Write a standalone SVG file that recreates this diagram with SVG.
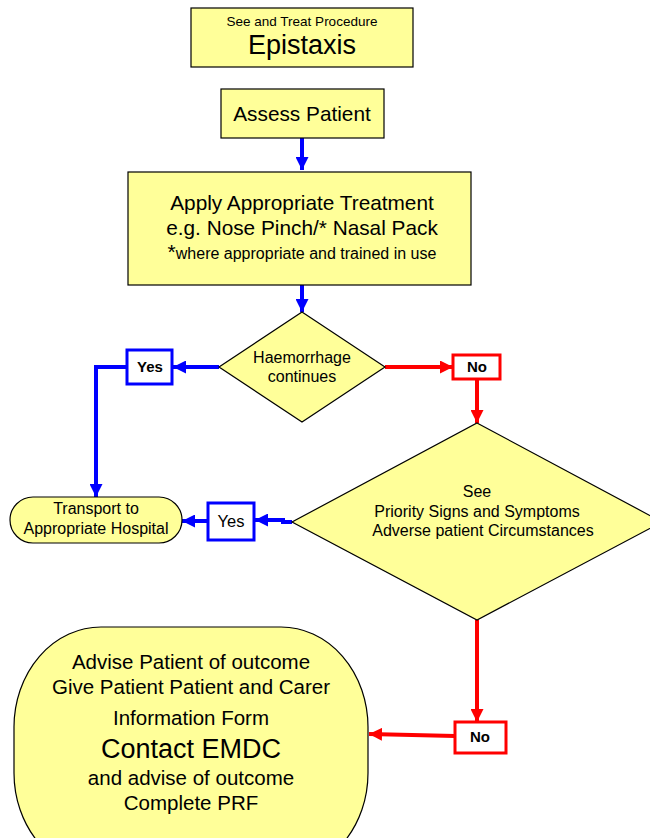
<svg xmlns="http://www.w3.org/2000/svg" width="650" height="838" viewBox="0 0 650 838">
<defs>
<style>
.n{fill:#FFFF99;stroke:#000;stroke-width:1.2}
.t{font-family:"Liberation Sans",Arial,sans-serif;fill:#000;text-anchor:middle}
.b{stroke:#0000FF;stroke-width:4;fill:none}
.r{stroke:#FF0000;stroke-width:4;fill:none}
.yb{fill:#fff;stroke:#0000FF;stroke-width:3}
.nb{fill:#fff;stroke:#FF0000;stroke-width:3}
</style>
<marker id="ab" viewBox="0 0 10 10" refX="10" refY="5" markerWidth="13" markerHeight="13" markerUnits="userSpaceOnUse" orient="auto"><path d="M0,0L10,5L0,10z" fill="#0000FF"/></marker>
<marker id="ar" viewBox="0 0 10 10" refX="10" refY="5" markerWidth="13" markerHeight="13" markerUnits="userSpaceOnUse" orient="auto"><path d="M0,0L10,5L0,10z" fill="#FF0000"/></marker>
</defs>
<rect width="650" height="838" fill="#fff"/>
<g id="connectors">
<path class="b" d="M302,138V170" marker-end="url(#ab)"/>
<path class="b" d="M302,285V312" marker-end="url(#ab)"/>
<path class="b" d="M219,367H173" marker-end="url(#ab)"/>
<path class="b" d="M127,367H96V497" marker-end="url(#ab)"/>
<path class="r" d="M385,367H453" marker-end="url(#ar)"/>
<path class="r" d="M477,379V423" marker-end="url(#ar)"/>
<path class="b" d="M292,522H283V520H255" marker-end="url(#ab)"/>
<path class="b" d="M207,521H182" marker-end="url(#ab)"/>
<path class="r" d="M477,620V722" marker-end="url(#ar)"/>
<path class="r" d="M455,736L369,734" marker-end="url(#ar)"/>
</g>
<g id="title">
<rect class="n" x="191" y="8" width="222" height="59"/>
<text class="t" x="302" y="26" font-size="13.5">See and Treat Procedure</text>
<text class="t" x="302" y="54" font-size="27">Epistaxis</text>
</g>
<g id="assess">
<rect class="n" x="221" y="89" width="163" height="49"/>
<text class="t" x="302" y="121" font-size="20.8">Assess Patient</text>
</g>
<g id="treatment">
<rect class="n" x="128" y="172" width="343" height="113"/>
<text class="t" x="302" y="210" font-size="20.8">Apply Appropriate Treatment</text>
<text class="t" x="302" y="235" font-size="20.8">e.g. Nose Pinch/* Nasal Pack</text>
<text class="t" x="302" y="259" font-size="16"><tspan font-size="21">*</tspan>where appropriate and trained in use</text>
</g>
<g id="haemorrhage">
<path class="n" d="M302,312L385,367L302,422L219,367z"/>
<text class="t" x="302" y="363" font-size="16">Haemorrhage</text>
<text class="t" x="302" y="382" font-size="16">continues</text>
</g>
<g id="yes1">
<rect class="yb" x="127" y="350" width="45" height="34"/>
<text class="t" x="150" y="372" font-size="15" font-weight="bold">Yes</text>
</g>
<g id="no1">
<rect class="nb" x="453" y="355" width="47" height="24"/>
<text class="t" x="477" y="372" font-size="15" font-weight="bold">No</text>
</g>
<g id="priority">
<path class="n" d="M477,423L662,522L477,620L292,522z"/>
<text class="t" x="477" y="497" font-size="16">See</text>
<text class="t" x="477" y="517" font-size="16">Priority Signs and Symptoms</text>
<text class="t" x="483" y="536" font-size="16">Adverse patient Circumstances</text>
</g>
<g id="yes2">
<rect class="yb" x="208" y="503" width="46" height="37"/>
<text class="t" x="231" y="527" font-size="16.5">Yes</text>
</g>
<g id="transport">
<rect class="n" x="10" y="497" width="172" height="46" rx="23" ry="23"/>
<text class="t" x="96" y="514" font-size="16">Transport to</text>
<text class="t" x="96" y="534" font-size="16">Appropriate Hospital</text>
</g>
<g id="no2">
<rect class="nb" x="455" y="722" width="51" height="31"/>
<text class="t" x="480" y="742" font-size="15" font-weight="bold">No</text>
</g>
<g id="outcome">
<rect class="n" x="14" y="627" width="354" height="246" rx="87" ry="100"/>
<text class="t" x="191" y="669" font-size="20.5">Advise Patient of outcome</text>
<text class="t" x="191" y="694" font-size="20.5">Give Patient Patient and Carer</text>
<text class="t" x="191" y="725" font-size="20.5">Information Form</text>
<text class="t" x="191" y="758" font-size="27">Contact EMDC</text>
<text class="t" x="191" y="785" font-size="20.5">and advise of outcome</text>
<text class="t" x="191" y="810" font-size="20.5">Complete PRF</text>
</g>
</svg>
